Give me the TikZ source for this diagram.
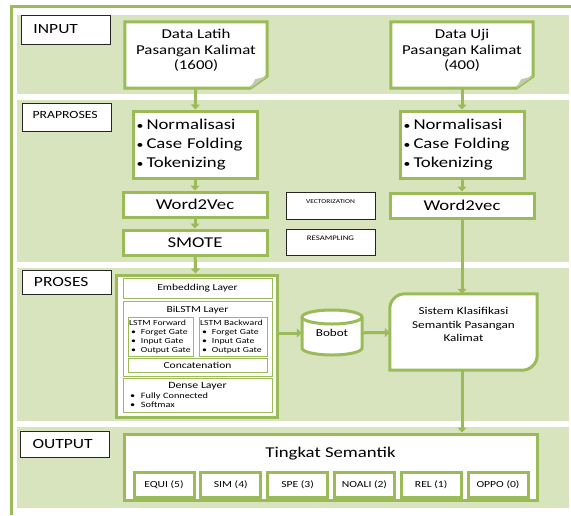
\documentclass[tikz,border=0pt]{standalone}
\usepackage{fontspec}
\setmainfont{Carlito}[FakeStretch=1.25]
\usetikzlibrary{arrows.meta}
\definecolor{leaf}{HTML}{9BBB59}
\definecolor{bandfill}{HTML}{D7E4BD}
\definecolor{foldfill}{HTML}{C2CBAE}
\newcommand{\gateitem}[1]{\hspace*{2pt}\makebox[10pt][l]{\textbullet}#1}
\newcommand{\prepitem}[1]{\makebox[10pt][l]{\fontsize{11}{11}\selectfont\textbullet}#1}

\begin{document}
\begin{tikzpicture}[x=1pt,y=-1pt,
	greenbox/.style={draw=leaf,line width=3pt,fill=white,inner sep=0pt},
	thinbox/.style={draw=leaf,line width=0.8pt,fill=white,inner sep=1pt},
	lblbox/.style={draw=black!85,line width=0.6pt,fill=white,inner ysep=0pt,inner xsep=12pt,
		text width=65pt,align=left},
	docshape/.style={minimum width=142pt,minimum height=66pt,inner sep=0pt},
	doctext/.style={font=\fontsize{13.5}{15.5}\selectfont,align=center,text depth=11pt,inner sep=0pt},
	flow/.style={draw=leaf,line width=3pt,-{Triangle[width=9pt,length=5pt]}},
	docline/.style={draw=leaf,line width=3pt,fill=white}]
\useasboundingbox (0,0) rectangle (571,515);
% bands
\fill[bandfill] (17,15) rectangle (569,94);
\fill[bandfill] (17,100) rectangle (569,262);
\fill[bandfill] (17,268) rectangle (569,421);
\fill[bandfill] (17,427) rectangle (569,508);
\draw[leaf,line width=3pt] (11,515) -- (11,6.5) -- (571,6.5);

% stage labels
\node[lblbox,minimum height=29pt,font=\fontsize{14}{16}\selectfont] (input) at (66,29.5) {INPUT};
\node[lblbox,minimum height=28pt,inner xsep=10pt,text width=69pt,font=\fontsize{11}{12}\selectfont,
	text height=7pt,text depth=5pt] (praproses) at (67,117) {PRAPROSES};
\node[lblbox,minimum height=24pt,font=\fontsize{14}{16}\selectfont] (proses) at (66.5,282) {PROSES};
\node[lblbox,minimum height=26pt,font=\fontsize{14}{16}\selectfont] (output) at (65,444) {OUTPUT};

% input documents
\node[docshape] (latih) at (196,55) {};
\node[docshape] (uji) at (462,55) {};
\foreach \d in {latih,uji} {
	\draw[docline] (\d.north west) -- (\d.north east) -- ([yshift=12pt]\d.south east)
		-- ([xshift=-17pt]\d.south east) -- (\d.south west) -- cycle;
	\fill[foldfill] ([yshift=12pt]\d.south east) -- ([xshift=-17pt]\d.south east)
		-- ([xshift=-12pt,yshift=9pt]\d.south east) -- cycle;
}
\node[doctext] (latihtxt) at (latih) {Data Latih\\Pasangan Kalimat\\(1600)};
\node[doctext] (ujitxt) at (uji) {Data Uji\\Pasangan Kalimat\\(400)};

% preprocessing
\node[greenbox,minimum height=67pt,text width=117pt,inner xsep=3.5pt,align=left,
	font=\fontsize{15}{19}\selectfont] (prepL) at (195,144.5)
	{\prepitem{Normalisasi}\\\prepitem{Case Folding}\\\prepitem{Tokenizing}};
\node[greenbox,minimum height=67pt,text width=117pt,inner xsep=3.5pt,align=left,
	font=\fontsize{15}{19}\selectfont] (prepR) at (462,144.5)
	{\prepitem{Normalisasi}\\\prepitem{Case Folding}\\\prepitem{Tokenizing}};
\node[greenbox,minimum width=144pt,minimum height=25pt,font=\fontsize{15}{18}\selectfont] (w2vL) at (195,204.5) {Word2Vec};
\node[greenbox,minimum width=144pt,minimum height=25pt,font=\fontsize{15}{18}\selectfont] (smote) at (195,242.5) {SMOTE};
\node[greenbox,minimum width=144pt,minimum height=25pt,font=\fontsize{15}{18}\selectfont] (w2vR) at (462,205.5) {Word2vec};
\node[draw=black!85,line width=0.6pt,fill=white,inner sep=0pt,minimum width=89pt,minimum height=27pt,
	font=\fontsize{6}{8}\selectfont,text height=4pt,text depth=8.1pt] (vect) at (330.5,205.5) {VECTORIZATION};
\node[draw=black!85,line width=0.6pt,fill=white,inner sep=0pt,minimum width=89pt,minimum height=26pt,
	font=\fontsize{7}{9}\selectfont,text height=4.6pt,text depth=8.1pt] (resamp) at (330.5,242) {RESAMPLING};

% model
\node[greenbox,minimum width=161pt,minimum height=142pt] (model) at (196.5,346) {};
\node[thinbox,minimum width=149pt,minimum height=20pt,font=\fontsize{9.2}{11}\selectfont] (embed) at (197.5,288) {Embedding Layer};
\node[thinbox,minimum width=149pt,minimum height=75pt,font=\fontsize{9.2}{11}\selectfont,
	text height=6pt,text depth=59pt] (bilstm) at (197.5,338.5) {BiLSTM Layer};
\node[thinbox,minimum height=39pt,text width=63pt,align=left,font=\fontsize{7.8}{9}\selectfont] (fwd) at (160.5,336.5)
	{LSTM Forward\\\gateitem{Forget Gate}\\\gateitem{Input Gate}\\\gateitem{Output Gate}};
\node[thinbox,minimum height=39pt,text width=66pt,align=left,font=\fontsize{7.8}{9}\selectfont] (bwd) at (233,336.5)
	{LSTM Backward\\\gateitem{Forget Gate}\\\gateitem{Input Gate}\\\gateitem{Output Gate}};
\node[thinbox,minimum width=139pt,minimum height=14pt,font=\fontsize{9.2}{11}\selectfont] (concat) at (197.5,365) {Concatenation};
\node[thinbox,minimum height=34pt,text width=147pt,align=left,font=\fontsize{8.2}{9.5}\selectfont] (dense) at (197.5,395)
	{\makebox[147pt]{\fontsize{9.5}{10}\selectfont Dense Layer}\\\hspace*{6pt}\makebox[11pt][l]{\textbullet}Fully Connected\\\hspace*{6pt}\makebox[11pt][l]{\textbullet}Softmax};

% weights
\draw[draw=leaf,line width=3pt,fill=white] (302,317) -- (302,348)
	arc[start angle=180,end angle=360,x radius=30pt,y radius=7pt] -- (362,317)
	arc[start angle=0,end angle=180,x radius=30pt,y radius=7pt] -- cycle;
\draw[draw=leaf,line width=3pt] (302,317) arc[start angle=180,end angle=360,x radius=30pt,y radius=7pt];
\node[minimum width=60pt,minimum height=45pt,inner sep=0pt,font=\fontsize{10.5}{12}\selectfont] (bobot) at (332,333) {Bobot};

% classifier
\node[minimum width=147pt,minimum height=76pt,inner sep=0pt] (sistem) at (463.5,332) {};
\draw[docline] ([yshift=-15pt]sistem.north west) arc[start angle=180,end angle=90,radius=15pt]
	-- (sistem.north east) -- ([yshift=15pt]sistem.south east)
	arc[start angle=0,end angle=-90,radius=15pt] -- (sistem.south west) -- cycle;
\node[font=\fontsize{10.5}{13.5}\selectfont,align=center,text depth=14.5pt,inner sep=0pt] (sistemtxt) at (sistem)
	{Sistem Klasifikasi\\Semantik Pasangan\\Kalimat};

% output
\node[greenbox,minimum width=413pt,minimum height=66pt,font=\fontsize{15}{18}\selectfont,
	text height=10pt,text depth=30pt] (tingkat) at (330.5,467) {Tingkat Semantik};
\foreach \lab/\nm [count=\i] in {{EQUI (5)}/equi,{SIM (4)}/sim,{SPE (3)}/spe,{NOALI (2)}/noali,{REL (1)}/rel,{OPPO (0)}/oppo}
	\node[greenbox,minimum width=60pt,minimum height=25pt,font=\fontsize{9.3}{11}\selectfont] (\nm) at ({164+(\i-1)*66.8},484.5) {\lab};

% connectors
\draw[flow] (latih) -- (prepL);
\draw[flow] (prepL) -- (w2vL);
\draw[flow] (w2vL) -- (smote);
\draw[flow] (smote) -- (model);
\draw[flow] (uji) -- (prepR);
\draw[flow] (prepR) -- (w2vR);
\draw[flow] (w2vR) -- (sistem.north -| w2vR);
\draw[flow] (model.east |- bobot) -- (bobot.west);
\draw[flow] (bobot) -- (sistem);
\draw[flow] (sistem.south -| w2vR) -- (tingkat.north -| w2vR);
\end{tikzpicture}
\end{document}
